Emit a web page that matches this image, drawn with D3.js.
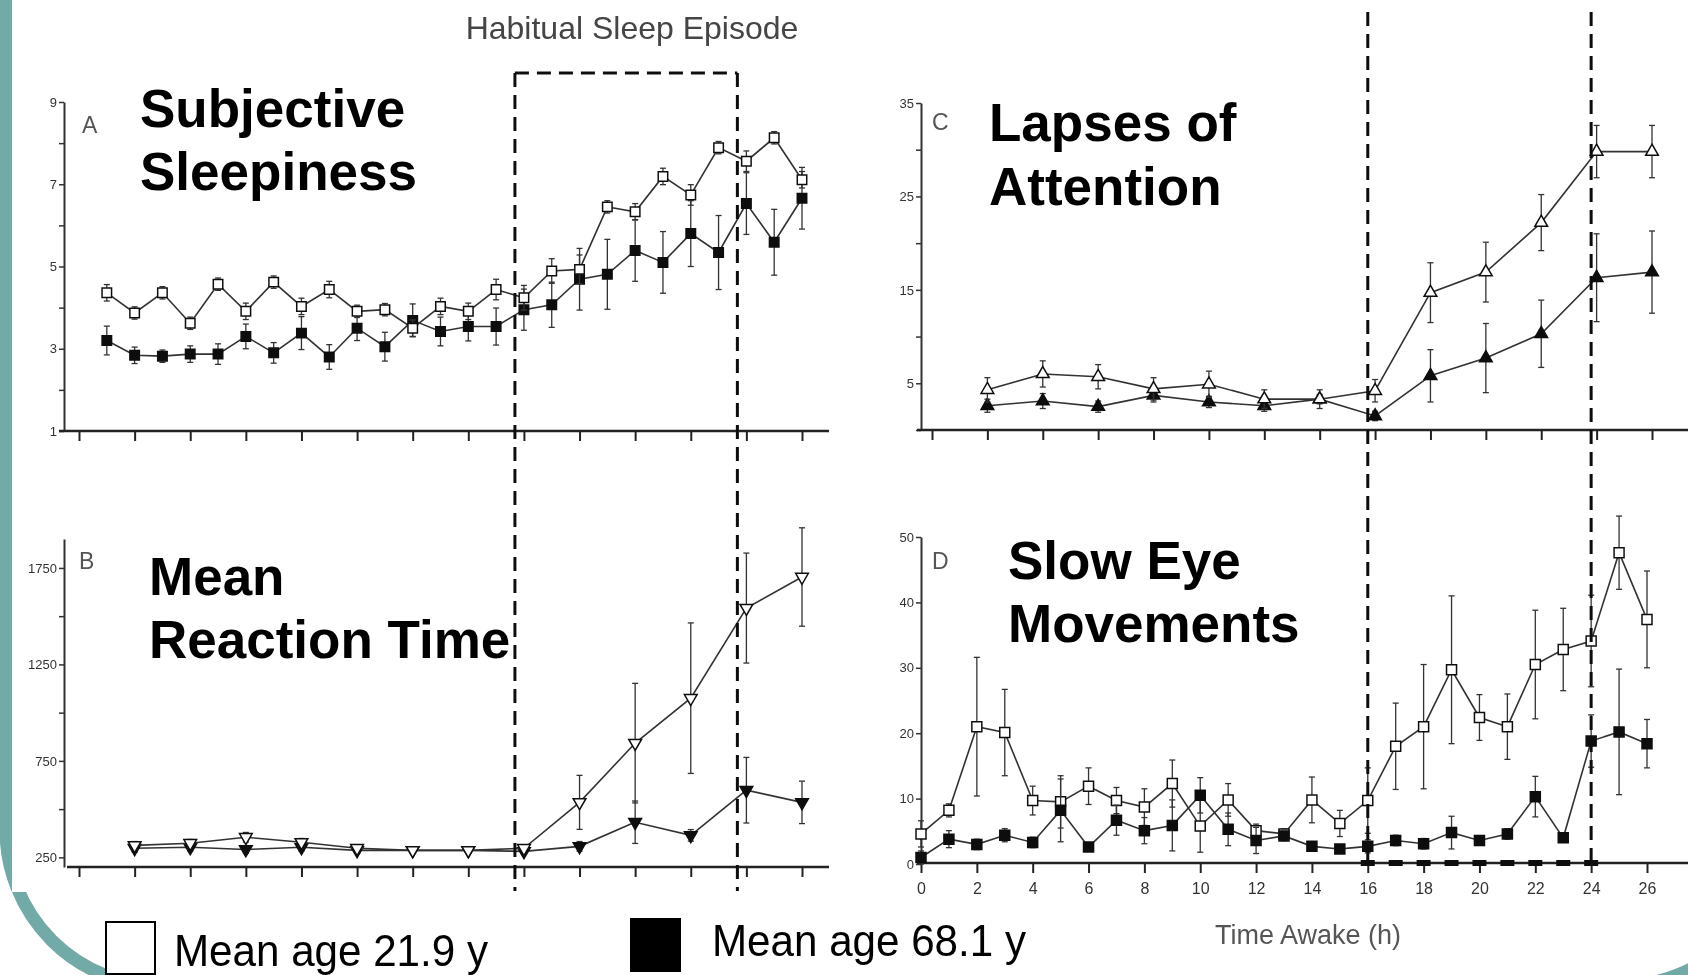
<!DOCTYPE html>
<html>
<head>
<meta charset="utf-8">
<script src="https://cdn.jsdelivr.net/npm/d3@7"></script>
<style>
  html, body { margin: 0; padding: 0; background: #fff; }
  svg { display: block; }
  .tick text { font-family: "Liberation Sans Narrow", "Liberation Sans", Arial, sans-serif; fill: #333; }
  .big { font-family: "Liberation Sans", Arial, sans-serif; font-weight: bold; fill: #000; }
</style>
</head>
<body>
<div id="chart"></div>
<script>
// ---- data ----
const hoursA = [1, 2, 3, 4, 5, 6, 7, 8, 9, 10, 11, 12, 13, 14, 15, 16, 17, 18, 19, 20, 21, 22, 23, 24, 25, 26];
const youngA = [4.36, 3.87, 4.36, 3.62, 4.57, 3.91, 4.62, 4.03, 4.44, 3.91, 3.95, 3.5, 4.03, 3.91, 4.44, 4.24, 4.89, 4.93, 6.45, 6.33, 7.19, 6.74, 7.89, 7.56, 8.13, 7.11];
const youngAErr = [0.2, 0.15, 0.15, 0.15, 0.15, 0.2, 0.15, 0.2, 0.2, 0.15, 0.15, 0.2, 0.2, 0.2, 0.25, 0.3, 0.3, 0.35, 0.15, 0.2, 0.2, 0.25, 0.15, 0.25, 0.15, 0.2];
const oldA = [3.2, 2.84, 2.82, 2.87, 2.87, 3.3, 2.9, 3.38, 2.8, 3.5, 3.05, 3.69, 3.42, 3.54, 3.54, 3.95, 4.07, 4.69, 4.81, 5.39, 5.1, 5.8, 5.34, 6.53, 5.59, 6.66];
const oldAErr = [0.35, 0.2, 0.15, 0.2, 0.25, 0.3, 0.25, 0.4, 0.3, 0.3, 0.35, 0.4, 0.35, 0.35, 0.45, 0.5, 0.55, 0.75, 0.85, 0.75, 0.75, 0.8, 0.9, 0.75, 0.8, 0.75];

const hoursB = [2, 4, 6, 8, 10, 12, 14, 16, 18, 20, 22, 24, 26];
const youngB = [312, 323, 354, 328, 297, 286, 286, 297, 535, 842, 1075, 1542, 1703];
const youngBErr = [20, 20, 25, 20, 15, 15, 15, 15, 140, 310, 390, 285, 255];
const oldB = [297, 302, 291, 302, 286, 286, 286, 281, 307, 432, 364, 598, 535];
const oldBErr = [20, 20, 20, 20, 15, 15, 15, 15, 25, 110, 30, 170, 110];

const hoursC = [2, 4, 6, 8, 10, 12, 14, 16, 18, 20, 22, 24, 26];
const youngC = [4.3, 6.0, 5.7, 4.4, 4.9, 3.3, 3.3, 4.2, 14.7, 16.9, 22.2, 29.8, 29.8];
const youngCErr = [1.3, 1.4, 1.3, 1.2, 1.4, 1.0, 1.0, 1.2, 3.2, 3.2, 3.0, 2.8, 2.8];
const oldC = [2.6, 3.1, 2.5, 3.7, 3.0, 2.6, 3.3, 1.5, 5.8, 7.7, 10.3, 16.3, 16.9];
const oldCErr = [0.7, 0.8, 0.6, 0.7, 0.6, 0.6, 0.5, 0.5, 2.8, 3.7, 3.6, 4.7, 4.4];

const hoursD = [0, 1, 2, 3, 4, 5, 6, 7, 8, 9, 10, 11, 12, 13, 14, 15, 16, 17, 18, 19, 20, 21, 22, 23, 24, 25, 26];
const youngD = [4.6, 8.2, 21.0, 20.1, 9.7, 9.5, 11.9, 9.7, 8.7, 12.3, 5.8, 9.8, 5.1, 4.6, 9.8, 6.2, 9.7, 18.0, 21.0, 29.7, 22.4, 21.0, 30.5, 32.8, 34.1, 47.6, 37.4];
const youngDErr = [2, 1, 10.6, 6.6, 2.2, 4, 2.8, 2, 2.8, 3.6, 4, 2.5, 1, 0.8, 3.5, 2, 5, 6.6, 9.5, 11.3, 3.5, 5, 8.3, 6.3, 7, 5.6, 7.4];
const oldD = [1.0, 3.8, 3.0, 4.4, 3.3, 8.2, 2.6, 6.7, 5.1, 5.9, 10.5, 5.3, 3.6, 4.3, 2.7, 2.3, 2.7, 3.6, 3.1, 4.8, 3.6, 4.6, 10.3, 4.0, 18.8, 20.2, 18.4];
const oldDErr = [1, 1.3, 0.8, 1, 0.8, 4.8, 0.6, 2.3, 2, 3.9, 2.7, 2.5, 2, 0.7, 0.5, 0.5, 1, 0.8, 0.8, 2.5, 0.6, 0.8, 3.1, 0.7, 4, 9.6, 3.7];

const xTickHours = [0, 2, 4, 6, 8, 10, 12, 14, 16, 18, 20, 22, 24, 26];
const sleepEpisode = [16, 24];
const sleepHours = [16, 17, 18, 19, 20, 21, 22, 23, 24];
const legendLabels = ['Mean age 21.9 y', 'Mean age 68.1 y'];

// ---- layout ----
const W = 1688, H = 975;
const svg = d3.select('#chart').append('svg').attr('width', W).attr('height', H);

const defs = svg.append('defs');
defs.append('filter').attr('id', 'soft')
  .append('feGaussianBlur').attr('stdDeviation', 0.45);

// teal slide frame behind the figure
svg.append('rect')
  .attr('x', 6).attr('y', -300).attr('width', 1770).attr('height', 1286)
  .attr('rx', 156).attr('fill', 'none')
  .attr('stroke', '#72aaa8').attr('stroke-width', 13);
svg.append('rect').attr('x', 12).attr('y', 0).attr('width', W - 12).attr('height', 892).attr('fill', '#fff');

const xAB = d3.scaleLinear().domain([0, 26]).range([79, 802]);
const xC = d3.scaleLinear().domain([0, 26]).range([932, 1652]);
const xD = d3.scaleLinear().domain([0, 26]).range([921, 1647]);
const yA = d3.scaleLinear().domain([1, 9]).range([431, 102]);
const yB = d3.scaleLinear().domain([200, 1900]).range([867, 539]);
const yC = d3.scaleLinear().domain([0, 35]).range([430, 103]);
const yD = d3.scaleLinear().domain([0, 50]).range([864, 537]);

const fig = svg.append('g').attr('filter', 'url(#soft)');

function yAxis(scale, xPos, ticks, labelled) {
  const ax = fig.append('g')
    .attr('transform', `translate(${xPos},0)`)
    .call(d3.axisLeft(scale).tickValues(ticks)
      .tickFormat((d) => (labelled.includes(d) ? d : ''))
      .tickSize(5).tickSizeOuter(0).tickPadding(2));
  ax.select('.domain').attr('stroke', '#333').attr('stroke-width', 2);
  ax.selectAll('.tick line').attr('stroke', '#333').attr('stroke-width', 1.5);
  ax.selectAll('.tick text').style('font-size', '13px');
}

function xAxis(scale, yPos, x0, x1, showLabels) {
  fig.append('line')
    .attr('x1', x0).attr('x2', x1).attr('y1', yPos).attr('y2', yPos)
    .attr('stroke', '#222').attr('stroke-width', 2.5);
  const ax = fig.append('g')
    .attr('transform', `translate(0,${yPos})`)
    .call(d3.axisBottom(scale).tickValues(xTickHours)
      .tickFormat(showLabels ? d3.format('d') : '')
      .tickSize(10).tickSizeOuter(0).tickPadding(10));
  ax.select('.domain').remove();
  ax.selectAll('.tick line').attr('stroke', '#222').attr('stroke-width', 2);
  ax.selectAll('.tick text').style('font-size', '16px');
}

function series(hours, vals, errs, x, y, shape, filled, size) {
  const g = fig.append('g');
  const pts = hours.map((h, i) => ({ h, v: vals[i], e: errs[i] }));
  // error bars
  const eb = g.selectAll('.eb').data(pts).enter().append('g')
    .attr('stroke', '#333').attr('stroke-width', 1.3);
  eb.append('line')
    .attr('x1', (d) => x(d.h)).attr('x2', (d) => x(d.h))
    .attr('y1', (d) => y(d.v - d.e)).attr('y2', (d) => y(d.v + d.e));
  eb.append('line')
    .attr('x1', (d) => x(d.h) - 3).attr('x2', (d) => x(d.h) + 3)
    .attr('y1', (d) => y(d.v + d.e)).attr('y2', (d) => y(d.v + d.e));
  eb.append('line')
    .attr('x1', (d) => x(d.h) - 3).attr('x2', (d) => x(d.h) + 3)
    .attr('y1', (d) => y(d.v - d.e)).attr('y2', (d) => y(d.v - d.e));
  // line
  g.append('path').datum(pts)
    .attr('fill', 'none').attr('stroke', '#333').attr('stroke-width', 1.6)
    .attr('d', d3.line().x((d) => x(d.h)).y((d) => y(d.v)));
  return { g, pts, x, y, shape, filled, size };
}

function markers(s) {
  const sym = d3.symbol().type(s.shape === 'square' ? d3.symbolSquare : d3.symbolTriangle).size(s.size);
  const rot = s.shape === 'down' ? 180 : 0;
  s.g.selectAll('.mk').data(s.pts).enter().append('path')
    .attr('d', sym)
    .attr('transform', (d) => `translate(${s.x(d.h)},${s.y(d.v)}) rotate(${rot})`)
    .attr('fill', s.filled ? '#111' : '#fff')
    .attr('stroke', '#111').attr('stroke-width', 1.5);
}

// ---- panel A ----
yAxis(yA, 64, [1, 2, 3, 4, 5, 6, 7, 8, 9], [1, 3, 5, 7, 9]);
xAxis(xAB, 431, 59, 829, false);
const aOld = series(hoursA, oldA, oldAErr, xAB, yA, 'square', true, 90);
const aYoung = series(hoursA, youngA, youngAErr, xAB, yA, 'square', false, 90);
markers(aOld); markers(aYoung);

// ---- panel B ----
yAxis(yB, 64, [250, 500, 750, 1000, 1250, 1500, 1750], [250, 750, 1250, 1750]);
xAxis(xAB, 867, 67, 829, false);
const bOld = series(hoursB, oldB, oldBErr, xAB, yB, 'down', true, 70);
const bYoung = series(hoursB, youngB, youngBErr, xAB, yB, 'down', false, 70);
markers(bOld); markers(bYoung);

// ---- panel C ----
yAxis(yC, 921, [0, 5, 10, 15, 20, 25, 30, 35], [5, 15, 25, 35]);
xAxis(xC, 430, 917, 1688, false);
const cOld = series(hoursC, oldC, oldCErr, xC, yC, 'up', true, 70);
const cYoung = series(hoursC, youngC, youngCErr, xC, yC, 'up', false, 70);
markers(cOld); markers(cYoung);

// ---- panel D ----
yAxis(yD, 921, [0, 10, 20, 30, 40, 50], [0, 10, 20, 30, 40, 50]);
xAxis(xD, 863, 917, 1688, true);
const dYoung = series(hoursD, youngD, youngDErr, xD, yD, 'square', false, 100);
const dOld = series(hoursD, oldD, oldDErr, xD, yD, 'square', true, 100);
markers(dYoung); markers(dOld);

// sleep-episode marks on D time axis
fig.selectAll('.sleepmark').data(sleepHours).enter().append('rect')
  .attr('x', (d) => xD(d) - 7).attr('y', 860).attr('width', 14).attr('height', 6).attr('fill', '#111');

// ---- habitual sleep episode dashed lines ----
// the A/B reference lines sit a few pixels left of the hour ticks in the original
const abShift = -9;
const dash = { stroke: '#111', 'stroke-width': 3, 'stroke-dasharray': '14,8' };
function dashed(x1, y1, x2, y2) {
  const l = fig.append('line').attr('x1', x1).attr('y1', y1).attr('x2', x2).attr('y2', y2);
  Object.entries(dash).forEach(([k, v]) => l.attr(k, v));
}
sleepEpisode.forEach((h) => dashed(xAB(h) + abShift, 73, xAB(h) + abShift, 891));
dashed(xAB(sleepEpisode[0]) + abShift, 73, xAB(sleepEpisode[1]) + abShift, 73);
sleepEpisode.forEach((h) => dashed(xD(h), 12, xD(h), 863));

// titles and panel letters
fig.append('text').attr('x', 632).attr('y', 39).attr('text-anchor', 'middle')
  .style('font-family', '"Liberation Sans", Arial, sans-serif').style('font-size', '32px').style('fill', '#444')
  .text('Habitual Sleep Episode');
fig.append('text').attr('x', 1308).attr('y', 944).attr('text-anchor', 'middle')
  .style('font-family', '"Liberation Sans Narrow", "Liberation Sans", Arial, sans-serif').style('font-size', '27px').style('fill', '#555')
  .text('Time Awake (h)');
[['A', 82, 133], ['B', 79, 569], ['C', 932, 130], ['D', 932, 569]].forEach(([t, x, y]) => {
  fig.append('text').attr('x', x).attr('y', y)
    .style('font-family', '"Liberation Sans", Arial, sans-serif').style('font-size', '23px').style('fill', '#555')
    .text(t);
});

// big overlay labels
const big = [
  ['Subjective', 140, 127], ['Sleepiness', 140, 190],
  ['Mean', 149, 595], ['Reaction Time', 149, 658],
  ['Lapses of', 989, 141], ['Attention', 989, 205],
  ['Slow Eye', 1008, 579], ['Movements', 1008, 642],
];
big.forEach(([t, x, y]) => {
  svg.append('text').attr('class', 'big').attr('x', x).attr('y', y).style('font-size', '53px').text(t);
});

// legend
svg.append('rect').attr('x', 106).attr('y', 922).attr('width', 49).attr('height', 52)
  .attr('fill', '#fff').attr('stroke', '#000').attr('stroke-width', 2);
svg.append('rect').attr('x', 630).attr('y', 918).attr('width', 51).attr('height', 54).attr('fill', '#000');
[[legendLabels[0], 174, 966], [legendLabels[1], 712, 956]].forEach(([t, x, y]) => {
  svg.append('text').attr('x', x).attr('y', y)
    .attr('textLength', 314).attr('lengthAdjust', 'spacingAndGlyphs')
    .style('font-family', '"Liberation Sans", Arial, sans-serif').style('font-size', '44px').style('fill', '#000')
    .text(t);
});
</script>
</body>
</html>
